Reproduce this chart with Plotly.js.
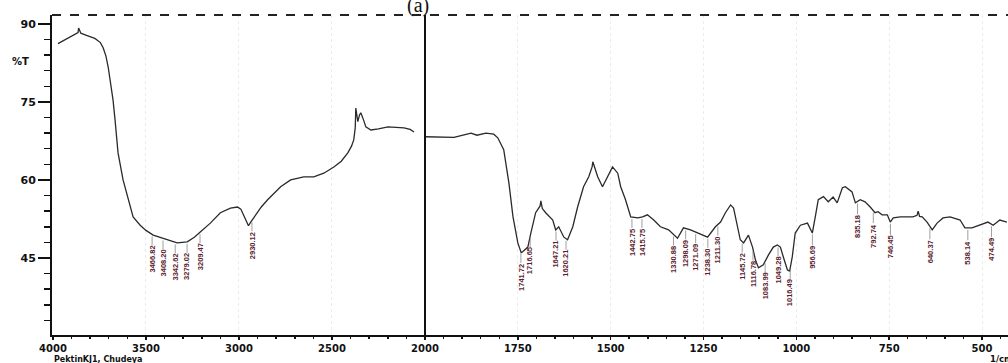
<!DOCTYPE html>
<html>
<head>
<meta charset="utf-8">
<script src="https://cdn.plot.ly/plotly-3.0.1.min.js"></script>
<style>html,body{margin:0;padding:0;background:#fff;}#chart{width:1008px;height:363px;}</style>
</head>
<body>
<div id="chart"></div>
<script>
// ---- Data ----
const wnLeft = [3973, 3935, 3900, 3880, 3865, 3862, 3850, 3827, 3800, 3775,
  3763, 3745, 3730, 3715, 3703, 3690, 3677, 3666, 3650, 3623,
  3596, 3569, 3531, 3500, 3461, 3420, 3385, 3332, 3278, 3240,
  3208, 3154, 3100, 3046, 3008, 2990, 2976, 2960, 2949, 2935,
  2911, 2880, 2846, 2776, 2722, 2652, 2598, 2544, 2490, 2450,
  2415, 2395, 2383, 2375, 2372, 2366, 2361, 2352, 2345, 2330,
  2318, 2291, 2250, 2199, 2150, 2113, 2080, 2059];
const tLeft = [86.2, 86.9, 87.5, 87.9, 88.3, 89.2, 88.2, 87.9, 87.6, 87.2,
  86.9, 86.4, 85.4, 83.8, 81.7, 78.8, 75.4, 71.5, 65.2, 60.0,
  56.2, 52.9, 51.3, 50.3, 49.4, 48.9, 48.5, 47.9, 48.1, 49.0,
  50.0, 51.7, 53.7, 54.6, 54.8, 54.4, 53.3, 52.0, 51.2, 52.0,
  53.3, 54.8, 56.2, 58.7, 60.0, 60.6, 60.6, 61.3, 62.5, 63.6,
  65.2, 66.5, 67.7, 70.0, 73.8, 72.0, 71.2, 72.5, 72.9, 71.5,
  70.2, 69.6, 69.8, 70.2, 70.1, 70.0, 69.7, 69.2];

const wnRight = [2000, 1976, 1922, 1876, 1860, 1836, 1815, 1804, 1788, 1774,
  1763, 1750, 1741, 1737, 1723, 1715, 1702, 1690, 1688, 1684,
  1675, 1656, 1648, 1640, 1626, 1616, 1602, 1589, 1573, 1559,
  1550, 1548, 1540, 1535, 1522, 1508, 1495, 1481, 1473, 1460,
  1446, 1427, 1414, 1401, 1384, 1366, 1344, 1320, 1304, 1285,
  1266, 1239, 1218, 1204, 1191, 1177, 1169, 1159, 1151, 1142,
  1129, 1118, 1110, 1102, 1089, 1075, 1062, 1051, 1043, 1035,
  1024, 1018, 1011, 1003, 989, 970, 957, 949, 941, 927,
  914, 901, 890, 876, 868, 850, 841, 828, 815, 801,
  788, 780, 769, 755, 747, 739, 720, 686, 675, 672,
  668, 661, 648, 634, 621, 605, 586, 559, 546, 527,
  506, 484, 470, 452, 433];
const tRight = [68.3, 68.3, 68.2, 69.0, 68.6, 69.0, 68.8, 68.1, 65.8, 59.4,
  52.9, 47.9, 46.0, 46.2, 47.1, 49.8, 53.7, 55.0, 56.0, 54.5,
  53.7, 52.3, 50.4, 51.0, 49.0, 48.5, 51.0, 54.8, 58.7, 60.6,
  62.5, 63.5, 61.5, 60.6, 58.7, 60.6, 62.5, 61.3, 58.7, 56.2,
  52.9, 52.7, 52.9, 53.3, 52.3, 51.0, 50.4, 48.8, 50.8, 50.4,
  49.8, 49.0, 51.0, 51.9, 53.7, 55.2, 54.6, 51.0, 48.5, 47.9,
  49.4, 47.1, 44.6, 43.1, 43.7, 45.6, 47.1, 47.5, 47.1, 45.2,
  42.7, 42.5, 45.2, 49.8, 51.3, 51.7, 49.8, 52.9, 56.2, 56.8,
  55.8, 56.7, 55.6, 58.5, 58.7, 57.7, 55.6, 56.2, 55.8, 54.8,
  53.7, 53.9, 53.3, 53.3, 51.9, 52.7, 52.9, 52.9, 53.2, 54.0,
  53.0, 52.9, 51.9, 50.4, 51.7, 52.7, 52.9, 52.3, 50.8, 50.8,
  51.3, 51.9, 51.3, 52.3, 51.9];

// peak labels (wavenumbers, cm-1)
const peaksLeft = ["3466.82", "3408.20", "3342.62", "3279.02", "3209.47", "2930.12"];
const peaksRight = ["1741.72", "1716.65", "1647.21", "1620.21", "1442.75", "1415.75",
  "1330.88", "1298.09", "1271.09", "1238.30", "1211.30", "1145.72", "1116.78",
  "1083.99", "1049.28", "1016.49", "956.69", "835.18", "792.74", "746.45",
  "640.37", "538.14", "474.49"];

const yTicks = [45, 60, 75, 90];
const xTicksLeft = [4000, 3500, 3000, 2500];
const xTicksRight = [2000, 1750, 1500, 1250, 1000, 750, 500];

// ---- helpers ----
function interp(xs, ys, x) {
  for (let i = 0; i < xs.length - 1; i++) {
    const a = xs[i], b = xs[i + 1];
    if ((x <= a && x >= b) || (x >= a && x <= b)) {
      const f = (x - a) / (b - a);
      return ys[i] + f * (ys[i + 1] - ys[i]);
    }
  }
  return ys[ys.length - 1];
}

const W = 1008, H = 363, ML = 52, MR = 0, MT = 15, MB = 28;
const plotW = W - ML - MR, plotH = H - MT - MB;
const split = (425 - ML) / plotW;

const lineStyle = {color: '#2a2a2a', width: 1.3};
const traces = [
  {x: wnLeft, y: tLeft, xaxis: 'x', yaxis: 'y', mode: 'lines', line: lineStyle, hoverinfo: 'skip'},
  {x: wnRight, y: tRight, xaxis: 'x2', yaxis: 'y', mode: 'lines', line: lineStyle, hoverinfo: 'skip'}
];

const labelFont = {family: 'Liberation Sans', size: 7.5, color: '#5b1d2e', weight: 'bold'};
function peakAnn(txt, xs, ys, xref) {
  const wn = parseFloat(txt);
  return {
    x: wn, y: interp(xs, ys, wn), xref: xref, yref: 'y',
    text: txt, textangle: -90, showarrow: true, arrowhead: 0,
    arrowwidth: 0.8, arrowcolor: '#888', ax: 0, ay: 25, standoff: 2,
    font: labelFont, borderpad: 0
  };
}

const annotations = [];
peaksLeft.forEach(p => annotations.push(peakAnn(p, wnLeft, tLeft, 'x')));
peaksRight.forEach(p => annotations.push(peakAnn(p, wnRight, tRight, 'x2')));

const boldFont = {family: 'DejaVu Sans', size: 10, color: '#111', weight: 'bold'};
annotations.push({text: '%T', xref: 'paper', yref: 'y', x: (20 - ML) / plotW, y: 82.7,
  xanchor: 'center', yanchor: 'middle', showarrow: false, font: boldFont});
annotations.push({text: 'PektinKJ1, Chudeya', xref: 'paper', yref: 'paper', x: 0, y: (335 - 359) / plotH,
  xanchor: 'left', yanchor: 'middle', showarrow: false, font: {family: 'DejaVu Sans', size: 8, color: '#111', weight: 'bold'}});
annotations.push({text: '1/cm', xref: 'paper', yref: 'paper', x: (988 - ML) / plotW, y: (335 - 359) / plotH,
  xanchor: 'left', yanchor: 'middle', showarrow: false, font: {family: 'DejaVu Sans', size: 8.5, color: '#111', weight: 'bold'}});
annotations.push({text: '(a)', xref: 'paper', yref: 'paper', x: (418 - ML) / plotW, y: 1 - 4 / plotH,
  xanchor: 'center', yanchor: 'bottom', showarrow: false, font: {family: 'Liberation Serif', size: 20, color: '#111'}});

const tickFont = {family: 'DejaVu Sans', size: 11, color: '#111', weight: 'bold'};
const xTickFont = {family: 'DejaVu Sans', size: 10, color: '#111', weight: 'bold'};
const grid = {showgrid: true, gridcolor: '#ececec', griddash: 'dot', gridwidth: 1};

const layout = {
  width: W, height: H,
  margin: {l: ML, r: MR, t: MT, b: MB},
  paper_bgcolor: '#ffffff', plot_bgcolor: '#ffffff',
  showlegend: false,
  xaxis: Object.assign({
    domain: [0, split], range: [4005, 2000], anchor: 'y',
    tickmode: 'array', tickvals: xTicksLeft, ticktext: xTicksLeft.map(String),
    ticks: 'outside', ticklen: 3, tickwidth: 1.5, tickcolor: '#111',
    showline: true, linecolor: '#111', linewidth: 1.5,
    tickfont: xTickFont, zeroline: false,
    minor: {tickmode: 'linear', tick0: 0, dtick: 100, ticks: 'outside', ticklen: 2, tickcolor: '#111', showgrid: false}
  }, grid),
  xaxis2: Object.assign({
    domain: [split, 1], range: [2000, 430], anchor: 'y',
    tickmode: 'array', tickvals: xTicksRight, ticktext: xTicksRight.map(String),
    ticks: 'outside', ticklen: 3, tickwidth: 1.5, tickcolor: '#111',
    showline: true, linecolor: '#111', linewidth: 1.5,
    tickfont: xTickFont, zeroline: false,
    minor: {tickmode: 'linear', tick0: 0, dtick: 50, ticks: 'outside', ticklen: 2, tickcolor: '#111', showgrid: false}
  }, grid),
  yaxis: {
    domain: [0, 1], range: [30.2, 91.7], anchor: 'x',
    tickmode: 'array', tickvals: yTicks, ticktext: yTicks.map(String),
    ticks: 'outside', ticklen: 12, tickwidth: 1.5, tickcolor: '#111',
    showline: true, linecolor: '#111', linewidth: 2,
    tickfont: tickFont, zeroline: false, showgrid: false,
    minor: {tickmode: 'linear', tick0: 0, dtick: 3, ticks: 'outside', ticklen: 6, tickcolor: '#111'}
  },
  shapes: [
    {type: 'line', xref: 'paper', yref: 'paper', x0: split, x1: split, y0: 0, y1: 1,
     line: {color: '#111', width: 2}},
    {type: 'line', xref: 'paper', yref: 'paper', x0: 0, x1: 1, y0: 1, y1: 1,
     line: {color: '#222', width: 2, dash: 'dash'}}
  ],
  annotations: annotations
};

Plotly.newPlot('chart', traces, layout, {displayModeBar: false, staticPlot: true});
</script>
</body>
</html>
